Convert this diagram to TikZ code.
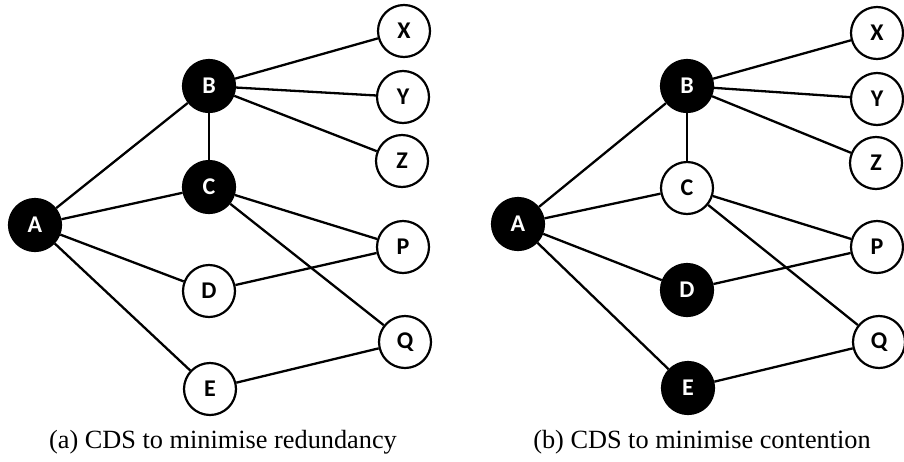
\documentclass[tikz,border=0pt]{standalone}
\usepackage{fontspec}
\setmainfont{Liberation Serif}
\newfontfamily\labelfont{Carlito}
\begin{document}
\begin{tikzpicture}[x=1pt,y=-1pt,
  vertex/.style={circle,draw=black,line width=2.2pt,minimum size=52pt,inner sep=0pt,
    font=\labelfont\bfseries\fontsize{24}{26}\selectfont},
  white/.style={vertex,fill=white,text=black},
  black/.style={vertex,fill=black,text=white},
  edge/.style={line width=2.3pt},
  caption/.style={font=\fontsize{26.3}{30}\selectfont,anchor=center}]
\useasboundingbox (0,0) rectangle (904,461);

% (a) redundancy
\begin{scope}
\node[black] (aA) at (35,225) {A};
\node[black] (aB) at (209,86) {B};
\node[black] (aC) at (209,187) {C};
\node[white] (aD) at (209,291) {D};
\node[white] (aE) at (210,389) {E};
\node[white] (aX) at (404,31) {X};
\node[white] (aY) at (403,97) {Y};
\node[white] (aZ) at (402,161) {Z};
\node[white] (aP) at (403,247) {P};
\node[white] (aQ) at (405,342) {Q};
\foreach \u/\v in {aA/aB,aA/aC,aA/aD,aA/aE,aB/aC,aB/aX,aB/aY,aB/aZ,aC/aP,aC/aQ,aD/aP,aE/aQ}
  \draw[edge] (\u) -- (\v);
\node[caption] (capa) at (223,442) {(a) CDS to minimise redundancy};
\end{scope}

% (b) contention
\begin{scope}
\node[black] (bA) at (518,224) {A};
\node[black] (bB) at (687,86) {B};
\node[white] (bC) at (687,188) {C};
\node[black] (bD) at (687,290) {D};
\node[black] (bE) at (688,388) {E};
\node[white] (bX) at (877,33) {X};
\node[white] (bY) at (877,99) {Y};
\node[white] (bZ) at (876,163) {Z};
\node[white] (bP) at (877,247) {P};
\node[white] (bQ) at (879,342) {Q};
\foreach \u/\v in {bA/bB,bA/bC,bA/bD,bA/bE,bB/bC,bB/bX,bB/bY,bB/bZ,bC/bP,bC/bQ,bD/bP,bE/bQ}
  \draw[edge] (\u) -- (\v);
\node[caption] (capb) at (702,442) {(b) CDS to minimise contention};
\end{scope}
\end{tikzpicture}
\end{document}
